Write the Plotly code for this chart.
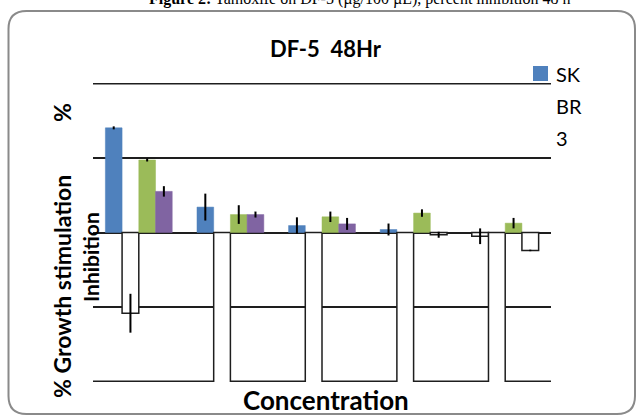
import plotly.graph_objects as go

# ---- data ----
categories = [0, 1, 2, 3, 4]
series_names = ["SK BR 3", "Series 2", "Series 3", "Series 4"]
blue_vals = [1.40, 0.34, 0.093, 0.04, -0.05]
blue_err = [0.02, 0.18, 0.11, 0.08, 0.105]
s2_vals = [-1.08, -2.6, -2.6, -2.6, -2.6]
s2_err = [0.26, 0.0, 0.0, 0.0, 0.0]
green_vals = [0.97, 0.24, 0.21, 0.26, 0.125]
green_err = [0.02, 0.125, 0.07, 0.05, 0.07]
purple_vals = [0.55, 0.24, 0.115, -0.03, -0.24]
purple_err = [0.07, 0.04, 0.08, 0.04, 0.01]
y_ticks = [-2, -1, 0, 1, 2]

W, H = 637, 415
L, R, T, B = 93, 86, 83, 33
PW, PH = W - L - R, H - T - B


def px(x):
    return (x - L) / PW


def py(y):
    return (H - B - y) / PH


colors = ["#4F81BD", "#4F81BD", "#9BBB59", "#8064A2"]
vals = [blue_vals, s2_vals, green_vals, purple_vals]
errs = [blue_err, s2_err, green_err, purple_err]
GRID = "#1e1e1e"

fig = go.Figure()
for name, c, v, e in zip(series_names, colors, vals, errs):
    fill = [c if val >= 0 else "white" for val in v]
    line_c = [c if val >= 0 else GRID for val in v]
    line_w = [0.5 if val >= 0 else 1.5 for val in v]
    fig.add_trace(go.Bar(
        x=categories, y=v, name=name,
        marker=dict(color=fill, line=dict(color=line_c, width=line_w)),
        error_y=dict(type="data", array=e, visible=True, color="black",
                     thickness=2, width=0),
        showlegend=False,
    ))

fig.update_layout(
    width=W, height=H,
    margin=dict(l=L, r=R, t=T, b=B, pad=0),
    paper_bgcolor="white", plot_bgcolor="white",
    barmode="group", bargap=0.27, bargroupgap=0,
    font=dict(family="Lato", color="black"),
)
fig.update_xaxes(range=[-0.5, 4.5], showticklabels=False, showgrid=False,
                 zeroline=False, showline=False, ticks="")
fig.update_yaxes(range=[y_ticks[0], y_ticks[-1]], tickvals=y_ticks, showticklabels=False,
                 showgrid=True, gridcolor=GRID, gridwidth=1.5,
                 zeroline=True, zerolinecolor=GRID, zerolinewidth=1.5,
                 showline=False, ticks="")

# edge gridlines (plotly hides grid lines lying on the plot edges);
# clipped to the plot area so that only the inner half shows, under the bars
for yv in (y_ticks[0], y_ticks[-1]):
    fig.add_shape(type="line", xref="paper", yref="y", x0=0, x1=1, y0=yv, y1=yv,
                  line=dict(color=GRID, width=3), layer="below")

# rounded outer border
x0, y0, x1, y1, r = px(8.5), py(11), px(635), py(414), 18
rx, ry = r / PW, r / PH
path = (f"M {x0+rx} {y0} L {x1-rx} {y0} Q {x1} {y0} {x1} {y0-ry} "
        f"L {x1} {y1+ry} Q {x1} {y1} {x1-rx} {y1} "
        f"L {x0+rx} {y1} Q {x0} {y1} {x0} {y1+ry} "
        f"L {x0} {y0-ry} Q {x0} {y0} {x0+rx} {y0} Z")
fig.add_shape(type="path", path=path, xref="paper", yref="paper",
              line=dict(color="#8a8a8a", width=2), layer="below")

# legend marker square
fig.add_shape(type="rect", xref="paper", yref="paper",
              x0=px(533), x1=px(548), y0=py(81), y1=py(66),
              fillcolor="#4F81BD", line=dict(width=0))
for word, yy in zip(series_names[0].split(" "), [74, 106, 138]):
    fig.add_annotation(text=word, xref="paper", yref="paper", x=px(554),
                       y=py(yy), xanchor="left", yanchor="middle",
                       showarrow=False, font=dict(size=20, family="Lato"))

# caption at very top (cut off in the reference)
fig.add_annotation(text="<b>Figure 2:</b> Tamoxife on DF-5 (µg/100 µL), percent inhibition 48 h",
                   xref="paper", yref="paper", x=px(360), y=py(10),
                   xanchor="center", yanchor="bottom", showarrow=False,
                   font=dict(size=16, family="Liberation Serif"))
# chart title
fig.add_annotation(text="<b>DF-5  48Hr</b>", xref="paper", yref="paper",
                   x=px(326), y=py(48), xanchor="center", yanchor="middle",
                   showarrow=False, font=dict(size=22, family="Lato"))
# x axis title
fig.add_annotation(text="<b>Concentration</b>", xref="paper", yref="paper",
                   x=px(326), y=py(400), xanchor="center", yanchor="middle",
                   showarrow=False, font=dict(size=26, family="Lato"))
# y axis title pieces
fig.add_annotation(text="<b>% Growth stimulation</b>", xref="paper", yref="paper",
                   x=px(62), y=py(287), xanchor="center", yanchor="middle",
                   textangle=-90, showarrow=False, font=dict(size=23, family="Lato"))
fig.add_annotation(text="<b>%</b>", xref="paper", yref="paper",
                   x=px(62), y=py(113), xanchor="center", yanchor="middle",
                   textangle=-90, showarrow=False, font=dict(size=23, family="Lato"))
fig.add_annotation(text="<b>Inhibition</b>", xref="paper", yref="paper",
                   x=px(90), y=py(257), xanchor="center", yanchor="middle",
                   textangle=-90, showarrow=False, font=dict(size=21, family="Lato"))

fig.write_html("out.html", config={"displayModeBar": False},
               post_script="document.body.style.margin='0';")
